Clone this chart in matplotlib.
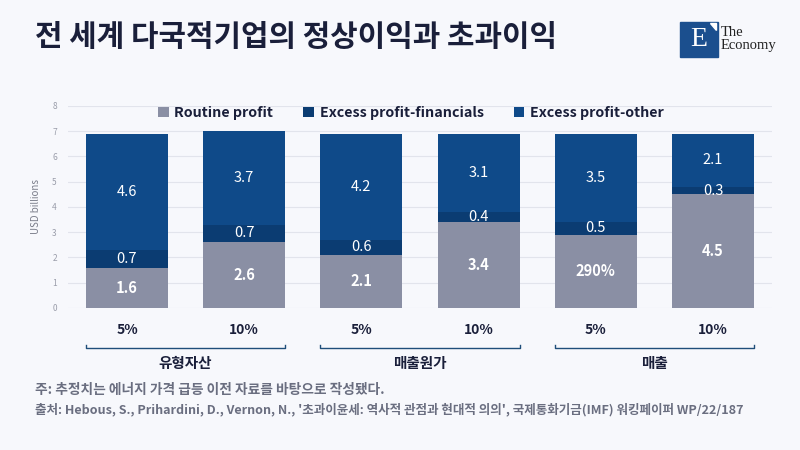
import numpy as np
import matplotlib
matplotlib.use("Agg")
import matplotlib.pyplot as plt
from matplotlib.transforms import blended_transform_factory
from matplotlib.patches import Rectangle, Polygon

plt.rcParams['font.family'] = ['Noto Sans CJK KR', 'DejaVu Sans']

# 데이터
tick_labels = ["5%", "10%", "5%", "10%", "5%", "10%"]
groups = ["유형자산", "매출원가", "매출"]
routine = [1.6, 2.6, 2.1, 3.4, 2.9, 4.5]
routine_txt = ["1.6", "2.6", "2.1", "3.4", "290%", "4.5"]
fin = [0.7, 0.7, 0.6, 0.4, 0.5, 0.3]
other = [4.6, 3.7, 4.2, 3.1, 3.5, 2.1]
series_names = ["Routine profit", "Excess profit-financials", "Excess profit-other"]

bg = "#F7F8FC"
c_routine = "#8A8FA4"
c_fin = "#0B3C72"
c_other = "#0F4A89"
dark = "#1A1F3A"

fig = plt.figure(figsize=(8, 4.5), dpi=100, facecolor=bg)
ax = fig.add_axes([0.085, 0.3156, 0.88, 0.4489])
ax.set_facecolor(bg)

x = np.arange(len(routine))
w = 0.7
ax.bar(x, routine, w, color=c_routine, label=series_names[0], zorder=3)
ax.bar(x, fin, w, bottom=routine, color=c_fin, label=series_names[1], zorder=3)
bot3 = np.array(routine) + np.array(fin)
ax.bar(x, other, w, bottom=bot3, color=c_other, label=series_names[2], zorder=3)

for i in range(len(x)):
    ax.text(x[i], routine[i] / 2, routine_txt[i], ha="center", va="center",
            color="white", fontsize=10.5, fontweight="bold", zorder=4)
    ax.text(x[i], routine[i] + fin[i] / 2, f"{fin[i]}", ha="center", va="center",
            color="white", fontsize=10.5, zorder=4)
    ax.text(x[i], bot3[i] + other[i] / 2, f"{other[i]}", ha="center", va="center",
            color="white", fontsize=10.5, zorder=4)

ax.set_xlim(-0.503, 5.503)
ax.set_ylim(0, 8)
ax.set_yticks(range(0, 9))
ax.tick_params(axis="y", labelsize=6, colors="#9A9DAA", length=0, pad=8)
ax.set_xticks(x)
ax.set_xticklabels(tick_labels, fontsize=10, fontweight="bold", color=dark)
ax.tick_params(axis="x", length=0, pad=11)
ax.grid(axis="y", color="#E2E4EC", linewidth=0.8, zorder=0)
for s in ax.spines.values():
    s.set_visible(False)
ax.set_ylabel("USD billions", fontsize=7, color="#7A7D8A", labelpad=8)

leg = ax.legend(loc="center", bbox_to_anchor=(0.487, 0.965), ncol=3, frameon=False,
                handlelength=0.75, handleheight=0.75, columnspacing=2.1, handletextpad=0.4,
                prop={"size": 10.3, "weight": "bold"})
for t in leg.get_texts():
    t.set_color(dark)

# 그룹 괄호
tr = blended_transform_factory(ax.transData, ax.transAxes)
for g, name in enumerate(groups):
    x0 = 2 * g - w / 2
    x1 = 2 * g + 1 + w / 2
    ax.plot([x0, x0, x1, x1], [-0.183, -0.198, -0.198, -0.183], color="#1F4E7A",
            linewidth=1.0, transform=tr, clip_on=False)
    ax.text((x0 + x1) / 2, -0.272, name, transform=tr, ha="center", va="center",
            fontsize=10.5, fontweight="bold", color=dark)

# 제목
fig.text(0.044, 0.918, "전 세계 다국적기업의 정상이익과 초과이익", fontsize=21.5,
         fontweight="bold", color=dark, va="center")

# 로고
fig.patches.append(Rectangle((680 / 800, 1 - 57 / 450), 38 / 800, 35 / 450,
                             transform=fig.transFigure, color="#1B4F8E"))
fig.patches.append(Polygon([(710 / 800, 1 - 23 / 450), (716 / 800, 1 - 23 / 450),
                            (716 / 800, 1 - 30 / 450)], closed=True,
                           transform=fig.transFigure, color="white"))
fig.text(699 / 800, 1 - 40 / 450, "E", fontsize=20, color="white", family="Liberation Serif",
         ha="center", va="center")
fig.text(721 / 800, 1 - 33 / 450, "The", fontsize=10.5, color="#222", family="Liberation Serif",
         va="center")
fig.text(721 / 800, 1 - 46 / 450, "Economy", fontsize=10.5, color="#222", family="Liberation Serif",
         va="center")

# 주석
fig.text(0.044, 1 - 390 / 450, "주: 추정치는 에너지 가격 급등 이전 자료를 바탕으로 작성됐다.",
         fontsize=9.9, color="#6A6E80", fontweight="bold", va="center")
fig.text(0.044, 1 - 410 / 450,
         "출처: Hebous, S., Prihardini, D., Vernon, N., '초과이윤세: 역사적 관점과 현대적 의의', 국제통화기금(IMF) 워킹페이퍼 WP/22/187",
         fontsize=9.05, color="#6A6E80", fontweight="bold", va="center")

fig.savefig("out.png", dpi=100, facecolor=bg)
